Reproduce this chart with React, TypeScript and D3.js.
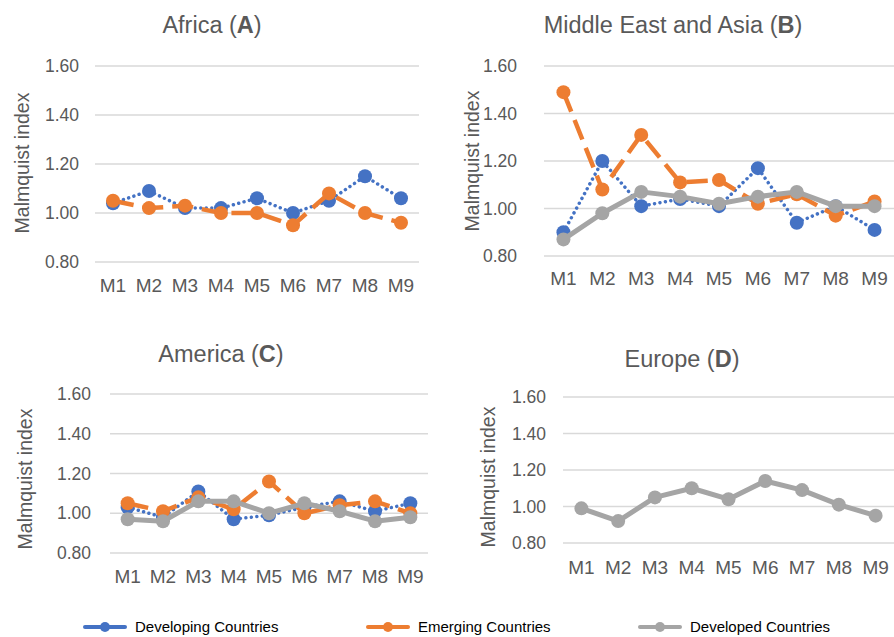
import React from "react";
import * as d3 from "d3";

const months = ["M1", "M2", "M3", "M4", "M5", "M6", "M7", "M8", "M9"];
const yTicks = [0.8, 1.0, 1.2, 1.4, 1.6];
const seriesNames = ["Developing Countries", "Emerging Countries", "Developed Countries"];

const africaDeveloping = [1.04, 1.09, 1.02, 1.02, 1.06, 1.0, 1.05, 1.15, 1.06];
const africaEmerging = [1.05, 1.02, 1.03, 1.0, 1.0, 0.95, 1.08, 1.0, 0.96];

const asiaDeveloping = [0.9, 1.2, 1.01, 1.04, 1.01, 1.17, 0.94, 1.01, 0.91];
const asiaEmerging = [1.49, 1.08, 1.31, 1.11, 1.12, 1.02, 1.06, 0.97, 1.03];
const asiaDeveloped = [0.87, 0.98, 1.07, 1.05, 1.02, 1.05, 1.07, 1.01, 1.01];

const americaDeveloping = [1.03, 0.98, 1.11, 0.97, 0.99, 1.03, 1.06, 1.01, 1.05];
const americaEmerging = [1.05, 1.01, 1.08, 1.02, 1.16, 1.0, 1.04, 1.06, 1.0];
const americaDeveloped = [0.97, 0.96, 1.06, 1.06, 1.0, 1.05, 1.01, 0.96, 0.98];

const europeDeveloped = [0.99, 0.92, 1.05, 1.1, 1.04, 1.14, 1.09, 1.01, 0.95];

const COLORS = ["#4472C4", "#ED7D31", "#A5A5A5"];
const TEXT = "#595959";
const FONT = "'Liberation Sans', Arial, sans-serif";

type Style = { width: number; dash: string; cap: "round" | "butt" };
const STYLES: Style[] = [
  { width: 3.5, dash: "0.01 5.5", cap: "round" },
  { width: 4.5, dash: "21 9", cap: "butt" },
  { width: 5, dash: "", cap: "round" },
];

type Geo = {
  x0: number; x1: number; yTop: number; yBot: number;
  titleX: number; titleY: number;
  yTitleX: number; yTitleY: number;
  tickRight: number; xLabelY: number;
};

function Panel({ name, letter, series, geo }: { name: string; letter: string; series: (number[] | null)[]; geo: Geo }) {
  const x = d3.scalePoint<string>().domain(months).range([geo.x0, geo.x1]).padding(0.5);
  const y = d3.scaleLinear().domain([0.8, 1.6]).range([geo.yBot, geo.yTop]);
  const line = d3.line<number>().x((_, i) => x(months[i]) as number).y((v) => y(v));
  return (
    <g>
      <text x={geo.titleX} y={geo.titleY} textAnchor="middle" fontSize={23.5} fill={TEXT} fontFamily={FONT}>
        {name} (<tspan fontWeight="bold">{letter}</tspan>)
      </text>
      {yTicks.map((t) => (
        <g key={t}>
          <line x1={geo.x0} x2={geo.x1} y1={y(t)} y2={y(t)} stroke="#D9D9D9" strokeWidth={1.3} />
          <text x={geo.tickRight} y={y(t)} dy="0.35em" textAnchor="end" fontSize={17.5} fill={TEXT} fontFamily={FONT}>
            {t.toFixed(2)}
          </text>
        </g>
      ))}
      <text
        transform={`translate(${geo.yTitleX},${geo.yTitleY}) rotate(-90)`}
        textAnchor="middle"
        dy="0.35em"
        fontSize={19.5}
        fill={TEXT}
        fontFamily={FONT}
      >
        Malmquist index
      </text>
      {months.map((m) => (
        <text key={m} x={x(m)} y={geo.xLabelY} textAnchor="middle" fontSize={19} fill={TEXT} fontFamily={FONT}>
          {m}
        </text>
      ))}
      {series.map((vals, si) =>
        vals ? (
          <g key={si}>
            <path
              d={line(vals) as string}
              fill="none"
              stroke={COLORS[si]}
              strokeWidth={STYLES[si].width}
              strokeDasharray={STYLES[si].dash || undefined}
              strokeLinecap={STYLES[si].cap}
              strokeLinejoin="round"
            />
            {vals.map((v, i) => (
              <circle key={i} cx={x(months[i]) as number} cy={y(v)} r={7} fill={COLORS[si]} />
            ))}
          </g>
        ) : null
      )}
    </g>
  );
}

export default function App() {
  const legendX = [105, 388, 660];
  const legendY = 627;
  return (
    <svg
      width={894}
      height={637}
      style={{ position: "absolute", left: 0, top: 0, background: "#fff" }}
      fontFamily={FONT}
    >
      <Panel
        name="Africa"
        letter="A"
        series={[africaDeveloping, africaEmerging, null]}
        geo={{ x0: 95, x1: 419, yTop: 66, yBot: 262, titleX: 212, titleY: 33, yTitleX: 22, yTitleY: 163, tickRight: 79, xLabelY: 292 }}
      />
      <Panel
        name="Middle East and Asia"
        letter="B"
        series={[asiaDeveloping, asiaEmerging, asiaDeveloped]}
        geo={{ x0: 544, x1: 894, yTop: 66, yBot: 256, titleX: 673, titleY: 33, yTitleX: 472, yTitleY: 161, tickRight: 517, xLabelY: 285 }}
      />
      <Panel
        name="America"
        letter="C"
        series={[americaDeveloping, americaEmerging, americaDeveloped]}
        geo={{ x0: 110, x1: 428, yTop: 394, yBot: 553, titleX: 221, titleY: 362, yTitleX: 25, yTitleY: 479, tickRight: 91, xLabelY: 583 }}
      />
      <Panel
        name="Europe"
        letter="D"
        series={[null, null, europeDeveloped]}
        geo={{ x0: 563, x1: 894, yTop: 397, yBot: 543, titleX: 682, titleY: 367, yTitleX: 488, yTitleY: 477, tickRight: 546, xLabelY: 574 }}
      />
      {seriesNames.map((n, i) => (
        <g key={n}>
          <line
            x1={legendX[i] - 20}
            x2={legendX[i] + 20}
            y1={legendY}
            y2={legendY}
            stroke={COLORS[i]}
            strokeWidth={4}
            strokeLinecap="round"
          />
          <circle cx={legendX[i]} cy={legendY} r={5} fill={COLORS[i]} />
          <text x={legendX[i] + 30} y={legendY} dy="0.35em" fontSize={15} fill="#000" fontFamily={FONT}>
            {n}
          </text>
        </g>
      ))}
    </svg>
  );
}
